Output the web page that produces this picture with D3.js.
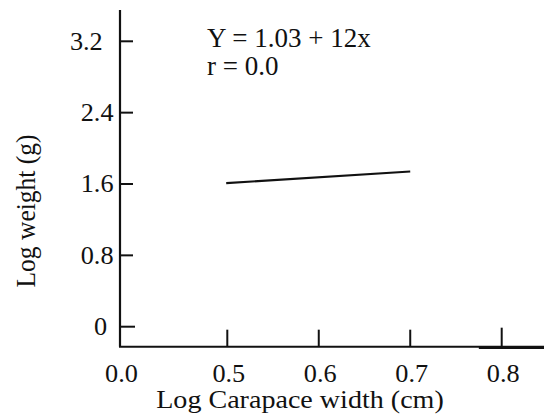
<!DOCTYPE html>
<html><head><meta charset="utf-8">
<script src="https://cdn.jsdelivr.net/npm/d3@7/dist/d3.min.js"></script>
<style>html,body{margin:0;padding:0;background:#fff;} svg{display:block;} text{font-family:"Liberation Serif","Times New Roman",serif;fill:#111;}</style>
</head><body>
<svg id="c" width="544" height="419"></svg>
<script>
const xTicks = [0.0, 0.5, 0.6, 0.7, 0.8];
const xTickLabels = ["0.0", "0.5", "0.6", "0.7", "0.8"];
const yTicks = [0, 0.8, 1.6, 2.4, 3.2];
const yTickLabels = ["0", "0.8", "1.6", "2.4", "3.2"];
const lineX = [0.495, 0.70];
const lineY = [1.61, 1.74];
const equation = ["Y = 1.03 + 12x", "r = 0.0"];
const xTitle = "Log Carapace width (cm)";
const yTitle = "Log weight (g)";

const svg = d3.select("#c");
// broken x axis: 0.0 then 0.5..0.8 linear
const x = d3.scaleLinear().domain([0, 0.5, 0.8, 0.846]).range([120, 227.3, 501.7, 544]);
const y = d3.scaleLinear().domain([0, 3.2]).range([326.7, 41.3]);
const yMin = -0.224, yMax = 3.55;
const ink = "#111";

function label(g, px, py, txt, size, sx, anchor) {
  return g.append("text")
    .attr("transform", `translate(${px},${py}) scale(${sx},1)`)
    .attr("text-anchor", anchor).attr("font-size", size).text(txt);
}

// y axis line
svg.append("line").attr("x1", 120).attr("x2", 120).attr("y1", y(yMax)).attr("y2", y(yMin))
  .attr("stroke", ink).attr("stroke-width", 2.2);
// x axis line
svg.append("line").attr("x1", 119).attr("x2", x(0.846)).attr("y1", y(yMin)).attr("y2", y(yMin))
  .attr("stroke", ink).attr("stroke-width", 2);
svg.append("line").attr("x1", x(0.775)).attr("x2", x(0.846)).attr("y1", y(yMin)+0.7).attr("y2", y(yMin)+0.7)
  .attr("stroke", ink).attr("stroke-width", 3);

// y ticks
const gy = svg.append("g");
yTicks.forEach((v, i) => {
  gy.append("line").attr("x1", 120).attr("x2", i === 0 ? 135 : 133).attr("y1", y(v)).attr("y2", y(v))
    .attr("stroke", ink).attr("stroke-width", 2);
  const endX = v === 3.2 ? 102.7 : (v === 0 ? 107 : 113.5);
  label(gy, endX, y(v) + 8.4, yTickLabels[i], 25, 1.05, "end");
});

// x ticks
const gx = svg.append("g");
xTicks.forEach((v, i) => {
  if (v > 0) {
    gx.append("line").attr("x1", x(v)).attr("x2", x(v)).attr("y1", y(yMin)).attr("y2", y(yMin) - (v === 0.8 ? 19 : 17))
      .attr("stroke", ink).attr("stroke-width", 2);
  }
  label(gx, x(v) + 1.5, 381.7, xTickLabels[i], 25, 1.05, "middle");
});

// regression line
svg.append("path")
  .attr("d", d3.line().x(d => x(d[0])).y(d => y(d[1]))(lineX.map((v, i) => [v, lineY[i]])))
  .attr("stroke", ink).attr("stroke-width", 2.2).attr("fill", "none");

// equation
equation.forEach((t, i) => {
  label(svg, 207, 46.5 + i * 28.5, t, 27, 1.0, "start");
});

// titles
label(svg, 300, 408, xTitle, 26, 1.08, "middle");
svg.append("text").attr("transform", "translate(35,211) rotate(-90) scale(1,1.1)").attr("text-anchor", "middle")
  .attr("font-size", 25.5).text(yTitle);
</script>
</body></html>
